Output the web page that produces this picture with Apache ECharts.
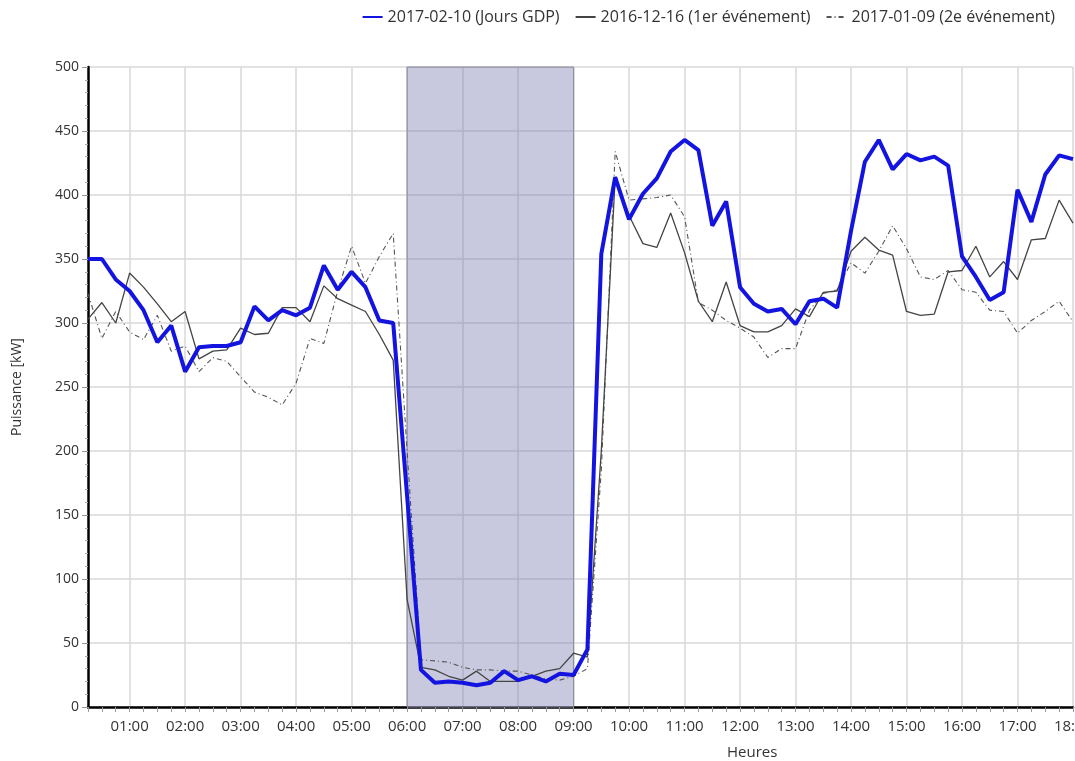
<!DOCTYPE html>
<html>
<head>
<meta charset="utf-8">
<script src="https://cdn.jsdelivr.net/npm/echarts@6/dist/echarts.min.js"></script>
<style>
  html, body { margin: 0; padding: 0; background: #ffffff; }
  #puissanceChart { width: 1075px; height: 761px; }
</style>
</head>
<body>
<div id="puissanceChart"></div>
<script>
// quarts d'heure de 00:15 a 18:00
var heures = [];
for (var q = 1; q <= 72; q++) {
  var h = Math.floor(q / 4), m = (q % 4) * 15;
  heures.push((h < 10 ? "0" : "") + h + ":" + (m === 0 ? "00" : m));
}

// 2017-02-10 (Jours GDP)
var joursGdp = [
  350, 350, 334, 325, 310, 285, 298, 262, 281, 282, 282, 285,
  313, 302, 310, 306, 312, 345, 326, 340, 328, 302, 300, 165,
  29, 19, 20, 19, 17, 19, 28, 21, 24, 20, 26, 25,
  45, 354, 414, 381, 401, 413, 434, 443, 435, 376, 395, 328,
  315, 309, 311, 299, 317, 319, 312, 372, 426, 443, 420, 432,
  427, 430, 423, 352, 336, 318, 324, 404, 379, 416, 431, 428
];

// 2016-12-16 (1er événement)
var evenement1 = [
  303, 316, 300, 339, 328, 315, 301, 309, 272, 278, 279, 296,
  291, 292, 312, 312, 301, 329, 319, 314, 309, 291, 271, 84,
  31, 29, 24, 21, 28, 20, 20, 20, 24, 28, 30, 42,
  39, 200, 414, 384, 362, 359, 386, 355, 317, 301, 332, 298,
  293, 293, 298, 311, 305, 324, 325, 356, 367, 357, 353, 309,
  306, 307, 340, 341, 360, 336, 348, 334, 365, 366, 396, 378
];

// 2017-01-09 (2e événement)
var evenement2 = [
  323, 288, 309, 293, 287, 306, 278, 282, 262, 273, 270, 258,
  246, 242, 236, 253, 288, 284, 325, 360, 331, 352, 370, 200,
  37, 36, 35, 31, 29, 29, 28, 28, 25, 22, 21, 24,
  30, 185, 434, 396, 397, 398, 400, 383, 316, 310, 302, 296,
  289, 273, 280, 280, 310, 323, 326, 347, 339, 356, 376, 358,
  336, 334, 341, 326, 324, 310, 309, 292, 302, 309, 317, 301
];

var periodeGdp = ["06:00", "09:00"];

var police = "'Open Sans', 'Noto Sans', sans-serif";
var myChart = echarts.init(document.getElementById("puissanceChart"));

var option = {
  backgroundColor: "#ffffff",
  animation: false,
  textStyle: { fontFamily: police },
  legend: {
    top: 4,
    right: 15,
    itemWidth: 20,
    itemHeight: 10,
    itemGap: 15,
    itemStyle: { opacity: 0 },
    textStyle: { fontSize: 16, color: "#333" },
    data: ["2017-02-10 (Jours GDP)", "2016-12-16 (1er événement)", "2017-01-09 (2e événement)"]
  },
  grid: {
    left: 88,
    top: 67,
    width: 985,
    height: 640,
    containLabel: false,
    outerBoundsMode: "none"
  },
  xAxis: {
    type: "category",
    data: heures,
    boundaryGap: false,
    axisLine: { lineStyle: { color: "#000", width: 2.5 } },
    axisTick: {
      show: true,
      interval: 0,
      length: 5,
      lineStyle: { color: "#999" }
    },
    axisLabel: {
      interval: function (i, v) { return v.slice(3) === "00"; },
      margin: 12,
      fontSize: 15,
      color: "#333"
    },
    splitLine: {
      show: true,
      interval: function (i, v) { return v.slice(3) === "00"; },
      lineStyle: { color: "#d8d8d8", width: 1.5 }
    }
  },
  yAxis: {
    type: "value",
    min: 0,
    max: 500,
    interval: 50,
    name: "Puissance [kW]",
    nameLocation: "middle",
    nameGap: 64,
    nameTextStyle: { fontSize: 14, color: "#333" },
    axisLine: { show: true, lineStyle: { color: "#000", width: 2.5 } },
    axisTick: { show: true, length: 6, lineStyle: { color: "#999" } },
    minorTick: { show: true, splitNumber: 5, length: 3, lineStyle: { color: "#aaa" } },
    axisLabel: { fontSize: 14, color: "#333", margin: 9 },
    splitLine: { lineStyle: { color: "#d8d8d8", width: 1.5 } }
  },
  graphic: [
    {
      type: "text",
      left: 727,
      top: 745,
      style: { text: "Heures", font: "15px " + police, fill: "#333" }
    }
  ],
  series: [
    {
      name: "2017-02-10 (Jours GDP)",
      type: "line",
      data: joursGdp,
      symbol: "none",
      z: 5,
      lineStyle: { color: "#1414e0", width: 4 },
      itemStyle: { color: "#1414e0" },
      markArea: {
        silent: true,
        itemStyle: {
          color: "rgba(110,110,170,0.38)",
          borderColor: "#8a8a9e",
          borderWidth: 1
        },
        data: [[{ xAxis: periodeGdp[0] }, { xAxis: periodeGdp[1] }]]
      }
    },
    {
      name: "2016-12-16 (1er événement)",
      type: "line",
      data: evenement1,
      symbol: "none",
      z: 4,
      lineStyle: { color: "#444", width: 1.3 },
      itemStyle: { color: "#444" }
    },
    {
      name: "2017-01-09 (2e événement)",
      type: "line",
      data: evenement2,
      symbol: "none",
      z: 3,
      lineStyle: { color: "#555", width: 1.1, type: [5, 3, 1, 3] },
      itemStyle: { color: "#555" }
    }
  ]
};

myChart.setOption(option);
window.addEventListener("resize", function () {
  myChart.resize();
});
</script>
</body>
</html>
